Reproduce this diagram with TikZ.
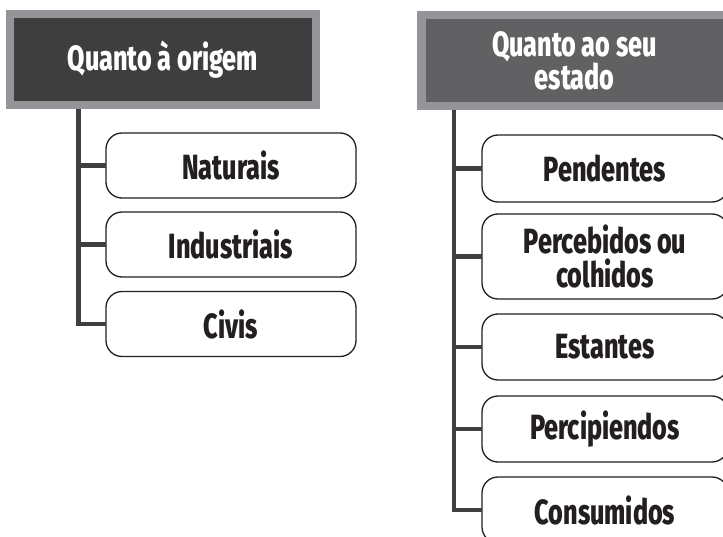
\documentclass[tikz,border=0pt]{standalone}
\usepackage{fontspec}
\setmainfont{Fira Sans}[FakeStretch=0.72, BoldFont={* ExtraBold}]

\definecolor{headrim}{HTML}{939598}
\definecolor{headdark}{HTML}{3E3E3F}
\definecolor{headmid}{HTML}{616163}
\definecolor{trunkgray}{HTML}{3F3F40}
\definecolor{inkblack}{HTML}{231F20}

\tikzset{
  headbox/.style={draw=headrim, line width=8.5pt, minimum width=306pt, minimum height=91pt,
    text=white, align=center, inner sep=0pt, outer sep=0pt,
    font=\fontsize{35}{27}\selectfont\bfseries},
  leafbox/.style={draw=inkblack, line width=1.3pt, rounded corners=16pt, fill=white,
    text=inkblack, align=center, inner sep=0pt, outer sep=0pt,
    font=\fontsize{35}{30}\selectfont\bfseries},
  branch/.style={draw=trunkgray, line width=4.6pt}
}

\begin{document}
\begin{tikzpicture}[x=1pt, y=-1pt]
    \useasboundingbox (0,0) rectangle (723,537);
    \clip (0,0) rectangle (723,537);

    % left column
    \node[headbox, fill=headdark] (orig) at (163,59.5) {Quanto à origem};
    \coordinate (ltop) at (78.5,109);
    \foreach \name/\y/\txt in {nat/165.5/Naturais, ind/244.5/Industriais, civ/324/Civis}{
      \node[leafbox, minimum width=250pt, minimum height=65pt] (\name) at (231,\y) {\txt};
      \draw[branch] (ltop) |- (\name.west);
    }

    % right column
    \node[headbox, fill=headmid] (est) at (574.5,60.5) {Quanto ao seu\\estado};
    \coordinate (rtop) at (454,110);
    \foreach \name/\y/\h/\txt in {pend/168.5/67/Pendentes, perc/256.5/85/{Percebidos ou\\[4pt]colhidos},
        esta/347/66/Estantes, perci/429/66/Percipiendos, cons/510/66/Consumidos}{
      \node[leafbox, minimum width=246pt, minimum height=\h pt] (\name) at (605,\y) {\txt};
      \draw[branch] (rtop) |- (\name.west);
    }
\end{tikzpicture}
\end{document}
